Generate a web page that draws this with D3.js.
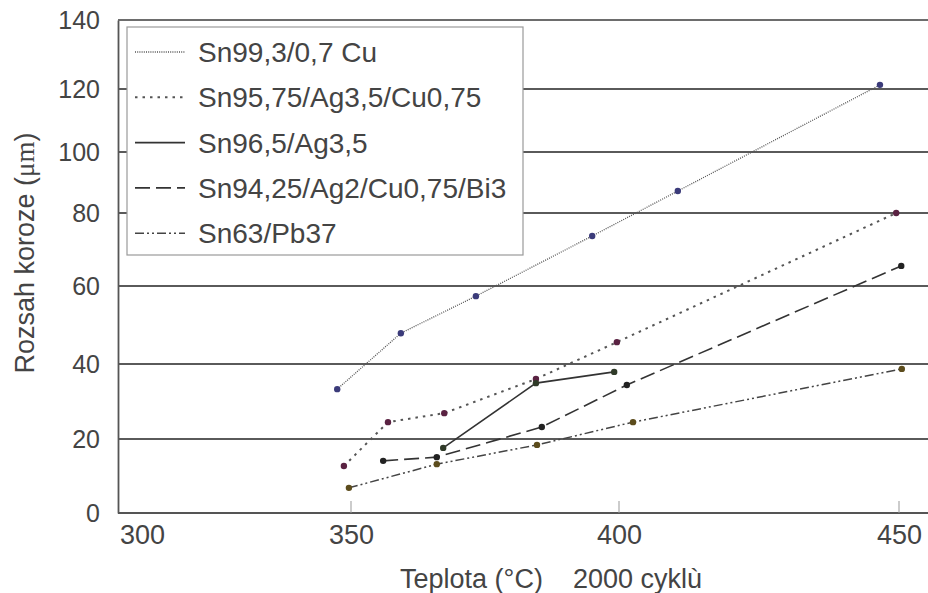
<!DOCTYPE html>
<html><head><meta charset="utf-8">
<script src="https://cdn.jsdelivr.net/npm/d3@7"></script>
<style>body{margin:0;background:#fff}svg{display:block}</style>
</head><body>
<svg id="c" width="928" height="593"></svg>
<script>
// ---- data ----
const xTicks = [300, 350, 400, 450];
const yTicks = [0, 20, 40, 60, 80, 100, 120, 140];
const seriesNames = ["Sn99,3/0,7 Cu", "Sn95,75/Ag3,5/Cu0,75", "Sn96,5/Ag3,5", "Sn94,25/Ag2/Cu0,75/Bi3", "Sn63/Pb37"];
const sn99T = [346.7, 359.3, 373.3, 395.0, 410.5, 446.6];
const sn99V = [33.3, 47.9, 57.4, 73.7, 87.2, 121.2];
const sn95T = [348.3, 356.9, 367.4, 384.5, 399.6, 449.5];
const sn95V = [12.7, 24.5, 26.9, 36.0, 45.6, 80.0];
const sn96T = [367.2, 384.5, 399.1];
const sn96V = [17.6, 34.9, 37.9];
const sn94T = [356.0, 366.0, 385.6, 401.4, 450.4];
const sn94V = [14.1, 15.1, 23.2, 34.4, 65.5];
const sn63T = [349.5, 366.0, 384.7, 402.5, 450.5];
const sn63V = [6.8, 13.2, 18.4, 24.5, 38.7];

(function () {
const svg = d3.select("#c");
const mLeft = 118, mRight = 928, mTop = 20, mBottom = 513;
const sans = "Liberation Sans, Arial, sans-serif";

// piecewise scales (the printed axes are not evenly spaced)
const x = d3.scaleLinear().domain(xTicks).range([142, 351, 619, 899]);
const y = d3.scaleLinear().domain(yTicks).range([513, 439, 364, 286, 213, 152, 89, 20]);

// grid lines
svg.append("g").selectAll("line").data(yTicks.filter(d => d > 0)).join("line")
  .attr("x1", mLeft).attr("x2", mRight)
  .attr("y1", d => y(d)).attr("y2", d => y(d))
  .attr("stroke", "#5a5a5a").attr("stroke-width", d => d === 140 ? 1.4 : 1.8);

// y axis
const yAxis = svg.append("g").attr("transform", `translate(${mLeft},0)`)
  .call(d3.axisLeft(y).tickValues(yTicks).tickSize(0).tickPadding(18));
yAxis.select(".domain").attr("stroke", "#555").attr("stroke-width", 1.8);
yAxis.selectAll("text").attr("font-family", sans)
  .attr("font-size", 25).attr("fill", "#444");

// x axis
const xAxis = svg.append("g").attr("transform", `translate(0,${mBottom})`)
  .call(d3.axisBottom(x).tickValues(xTicks).tickSize(0).tickPadding(12));
xAxis.select(".domain").remove();
xAxis.selectAll("text").attr("font-family", sans)
  .attr("font-size", 27).attr("fill", "#444");
svg.append("line").attr("x1", mLeft).attr("x2", mRight).attr("y1", mBottom).attr("y2", mBottom)
  .attr("stroke", "#555").attr("stroke-width", 1.8);
svg.append("g").selectAll("line").data(xTicks.slice(1)).join("line")
  .attr("x1", d => x(d)).attr("x2", d => x(d)).attr("y1", mBottom - 12).attr("y2", mBottom)
  .attr("stroke", "#999").attr("stroke-width", 1);

// series
const styles = [
  {dash: "1,1.2", w: 1.3, stroke: "#555", dot: "#3b3b7a"},
  {dash: "2.5,5", w: 2, stroke: "#555", dot: "#5a2242"},
  {dash: null, w: 1.6, stroke: "#333", dot: "#2f3a28"},
  {dash: "15,6", w: 1.6, stroke: "#333", dot: "#222"},
  {dash: "9,3,2,3,2,3", w: 1.5, stroke: "#444", dot: "#5c4c1c"}
];
const allT = [sn99T, sn95T, sn96T, sn94T, sn63T];
const allV = [sn99V, sn95V, sn96V, sn94V, sn63V];
const line = d3.line().x(d => x(d[0])).y(d => y(d[1]));
allT.forEach((ts, i) => {
  const pts = ts.map((t, j) => [t, allV[i][j]]);
  const st = styles[i];
  svg.append("path").datum(pts).attr("d", line).attr("fill", "none")
    .attr("stroke", st.stroke).attr("stroke-width", st.w)
    .attr("stroke-dasharray", st.dash);
  svg.append("g").selectAll("circle").data(pts).join("circle")
    .attr("cx", d => x(d[0])).attr("cy", d => y(d[1])).attr("r", 3.2)
    .attr("fill", st.dot);
});

// legend
svg.append("rect").attr("x", 127).attr("y", 27).attr("width", 396).attr("height", 228)
  .attr("fill", "#fff").attr("stroke", "#9a9a9a").attr("stroke-width", 1.2);
seriesNames.forEach((n, i) => {
  const cy = 52 + i * 45.3;
  const st = styles[i];
  svg.append("line").attr("x1", 135).attr("x2", 185).attr("y1", cy).attr("y2", cy)
    .attr("stroke", st.stroke).attr("stroke-width", st.w).attr("stroke-dasharray", st.dash);
  svg.append("text").attr("x", 198).attr("y", cy).attr("dy", "0.36em")
    .attr("font-family", sans).attr("font-size", 28)
    .attr("fill", "#444").text(n);
});

// top frame line
svg.append("line").attr("x1", mLeft).attr("x2", mRight).attr("y1", mTop).attr("y2", mTop)
  .attr("stroke", "#666").attr("stroke-width", 1.4);

// axis titles
const yt = svg.append("text").attr("transform", "translate(34,253) rotate(-90)")
  .attr("text-anchor", "middle").attr("font-family", sans)
  .attr("font-size", 27).attr("fill", "#444");
yt.append("tspan").text("Rozsah koroze (");
yt.append("tspan").attr("font-family", "Liberation Serif, Times New Roman, serif").text("μm");
yt.append("tspan").text(")");

svg.append("text").attr("x", 551).attr("y", 588).attr("text-anchor", "middle")
  .attr("font-family", sans).attr("font-size", 27)
  .attr("fill", "#444").attr("xml:space", "preserve").style("white-space", "pre")
  .text("Teplota (°C)    2000 cyklù");
})();
</script>
</body></html>
